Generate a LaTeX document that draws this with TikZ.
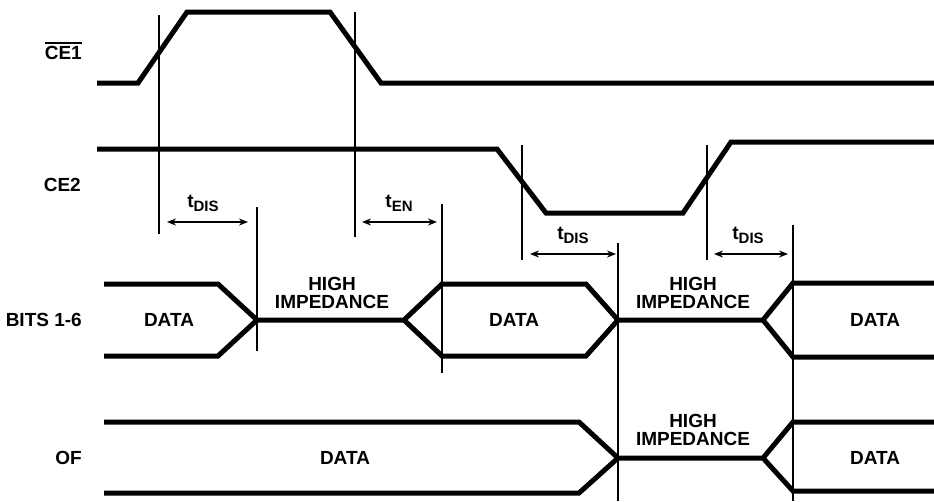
\documentclass[tikz,border=0pt]{standalone}
\usepackage{fontspec}
\setmainfont{Liberation Sans}
\usetikzlibrary{arrows.meta}
\newcommand{\tsub}[1]{t\raisebox{-4pt}{\fontsize{15}{15}\selectfont #1}}
\tikzset{
	wave/.style={line width=5pt},
	guide/.style={line width=1.5pt},
	span/.style={line width=2pt,{Stealth[length=9pt,width=7pt]}-{Stealth[length=9pt,width=7pt]}},
	lbl/.style={font=\bfseries\fontsize{19}{18.5}\selectfont,align=center,inner sep=0pt},
	sig/.style={lbl,anchor=east}
}
\begin{document}
\begin{tikzpicture}[x=1pt,y=-1pt]
	\useasboundingbox (0,0) rectangle (934,501);
	% signal names
	\node[sig] (ce1) at (82,53) {CE1};
	\draw[line width=1.3pt] ([yshift=3pt]ce1.north west) -- ([yshift=3pt]ce1.north east);
	\node[sig] (ce2) at (81,185) {CE2};
	\node[sig] (bits) at (82,320) {BITS 1-6};
	\node[sig] (of) at (82,458) {OF};
	% CE1 and CE2
	\draw[wave] (97,83) -- (138,83) -- (187,12) -- (330,12) -- (381,83) -- (934,83);
	\draw[wave] (97,149) -- (497,149) -- (546,213) -- (683,213) -- (731,142) -- (934,142);
	% BITS 1-6
	\draw[wave] (104,284) -- (218,284) -- (257,320) -- (404,320) -- (442,284) -- (586,284)
		-- (618,320) -- (763,320) -- (793,283) -- (934,283);
	\draw[wave] (104,356) -- (218,356) -- (257,320);
	\draw[wave] (404,320) -- (442,356) -- (586,356) -- (618,320);
	\draw[wave] (763,320) -- (793,357) -- (934,357);
	% OF
	\draw[wave] (104,422) -- (579,422) -- (618,458) -- (763,458) -- (793,422) -- (934,422);
	\draw[wave] (104,493) -- (579,493) -- (618,458);
	\draw[wave] (763,458) -- (793,491) -- (934,491);
	% timing guides
	\foreach \x/\ya/\yb in {159/15/234, 355/12/237, 257/207/351, 442/204/373,
		522/145/260, 707/145/260, 618/243/501, 793/225/501}
		\draw[guide] (\x,\ya) -- (\x,\yb);
	% intervals
	\foreach \xa/\xb/\y in {167/248/222, 362/437/222, 530/616/254, 714/788/254}
		\draw[span] (\xa,\y) -- (\xb,\y);
	\node[lbl] (dis1) at (203,203) {\tsub{DIS}};
	\node[lbl] (en) at (399,203) {\tsub{EN}};
	\node[lbl] (dis2) at (573,235) {\tsub{DIS}};
	\node[lbl] (dis3) at (748,235) {\tsub{DIS}};
	% bus states
	\node[lbl] (d1) at (169,320) {DATA};
	\node[lbl] (hz1) at (332,293) {HIGH\\IMPEDANCE};
	\node[lbl] (d2) at (514,320) {DATA};
	\node[lbl] (hz2) at (693,293) {HIGH\\IMPEDANCE};
	\node[lbl] (d3) at (875,320) {DATA};
	\node[lbl] (d4) at (345,458) {DATA};
	\node[lbl] (hz3) at (693,430) {HIGH\\IMPEDANCE};
	\node[lbl] (d5) at (875,458) {DATA};
\end{tikzpicture}
\end{document}
